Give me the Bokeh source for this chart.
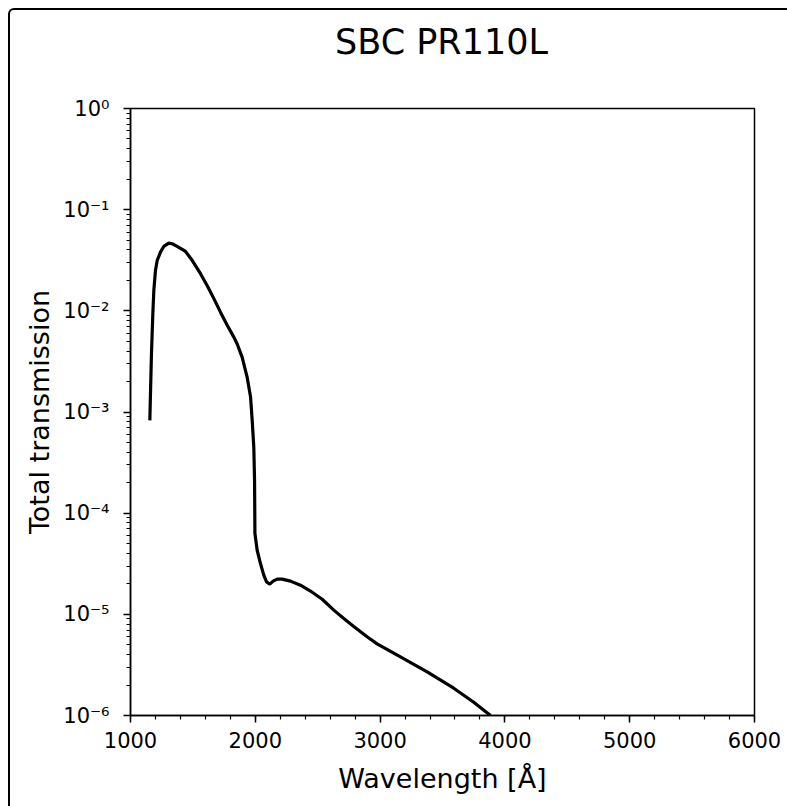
from bokeh.plotting import figure
from bokeh.layouts import column
from bokeh.models import (ColumnDataSource, FixedTicker, LogTicker,
                          CustomJSTickFormatter, Div)
from bokeh.embed import file_html
from bokeh.resources import INLINE

# data (wavelength in Angstrom, total transmission)
wavelength = [1155, 1160, 1168, 1179, 1187, 1200, 1214, 1240, 1267, 1307, 1334,
              1374, 1441, 1494, 1561, 1614, 1668, 1721, 1775, 1828, 1855, 1895,
              1935, 1962, 1975, 1988, 1994, 1997, 2015, 2042, 2068, 2090, 2116,
              2143, 2175, 2215, 2282, 2362, 2442, 2536, 2629, 2709, 2789, 2896,
              2976, 3163, 3377, 3590, 3750, 3885]
transmission = [8.26e-4, 1.51e-3, 3.77e-3, 9.4e-3, 1.59e-2, 2.5e-2, 3.15e-2,
                3.8e-2, 4.33e-2, 4.67e-2, 4.6e-2, 4.33e-2, 3.86e-2, 3.16e-2,
                2.33e-2, 1.78e-2, 1.32e-2, 9.7e-3, 7.2e-3, 5.5e-3, 4.7e-3,
                3.47e-3, 2.2e-3, 1.41e-3, 8.3e-4, 4.5e-4, 2.1e-4, 6.3e-5,
                4.3e-5, 3.16e-5, 2.44e-5, 2.09e-5, 1.99e-5, 2.13e-5, 2.23e-5,
                2.23e-5, 2.13e-5, 1.94e-5, 1.70e-5, 1.41e-5, 1.10e-5, 9.1e-6,
                7.6e-6, 6.0e-6, 5.1e-6, 3.8e-6, 2.7e-6, 1.86e-6, 1.35e-6, 1.0e-6]
x_ticks = [1000, 2000, 3000, 4000, 5000, 6000]
title_text = "SBC PR110L"
x_label = "Wavelength [Å]"
y_label = "Total transmission"

FONT = "DejaVu Sans"
W = 777
TITLE_H = 60
EXTRA = 10  # extra space the title block takes in the column

# title block, centred over the plot frame
title = Div(width=W, height=TITLE_H,
            text=('<div style="margin-left:82px; width:689px; margin-top:7px; '
                  'text-align:center; white-space:nowrap; color:black; '
                  "font-family:'DejaVu Sans'; font-size:35px; line-height:40px;\">"
                  + title_text + '</div>'))

p = figure(width=W, height=796 - TITLE_H - EXTRA, x_range=(1000, 6000),
           y_range=(1e-6, 1), y_axis_type="log", output_backend="svg",
           toolbar_location=None, min_border_left=120, min_border_right=33,
           min_border_top=98 - TITLE_H - EXTRA, min_border_bottom=91)

src = ColumnDataSource(dict(x=wavelength, y=transmission))
p.line("x", "y", source=src, line_color="black", line_width=3.2)

p.xgrid.visible = False
p.ygrid.visible = False
p.outline_line_color = "black"
p.outline_line_width = 1.5
p.outline_line_alpha = 1.0

p.xaxis.ticker = FixedTicker(ticks=x_ticks,
                             minor_ticks=list(range(1000, 6001, 200)))
p.yaxis.ticker = LogTicker(num_minor_ticks=10)
p.yaxis.formatter = CustomJSTickFormatter(code="""
const sup = {'-': '\u207b', '0': '\u2070', '1': '\u00b9', '2': '\u00b2', '3': '\u00b3',
             '4': '\u2074', '5': '\u2075', '6': '\u2076', '7': '\u2077', '8': '\u2078',
             '9': '\u2079'};
const e = Math.round(Math.log10(tick));
return '10' + String(e).split('').map(c => sup[c]).join('');
""")

p.xaxis.axis_label = x_label
p.yaxis.axis_label = y_label

for ax in (p.xaxis[0], p.yaxis[0]):
    ax.axis_line_width = 1.5
    ax.axis_line_color = "black"
    ax.major_tick_line_width = 1.5
    ax.minor_tick_line_width = 1.2
    ax.major_tick_out = 7
    ax.major_tick_in = 0
    ax.minor_tick_out = 4
    ax.minor_tick_in = 0
    ax.major_label_text_font = FONT
    ax.major_label_text_font_size = "21px"
    ax.major_label_text_color = "black"
    ax.axis_label_text_font = FONT
    ax.axis_label_text_font_size = "27px"
    ax.axis_label_text_font_style = "normal"
    ax.axis_label_text_color = "black"

p.xaxis.major_label_standoff = 9
p.yaxis.major_label_standoff = 14
p.xaxis.axis_label_standoff = 12
p.yaxis.axis_label_standoff = 5

layout = column(title, p, spacing=0,
                styles={"margin-left": "8px", "margin-top": "8px",
                        "border-top": "2px solid black",
                        "border-left": "2px solid black",
                        "border-top-left-radius": "6px"})

html = file_html(layout, INLINE)
html = html.replace("<body>", '<body style="overflow: hidden;">', 1)
open("out.html", "w").write(html)
